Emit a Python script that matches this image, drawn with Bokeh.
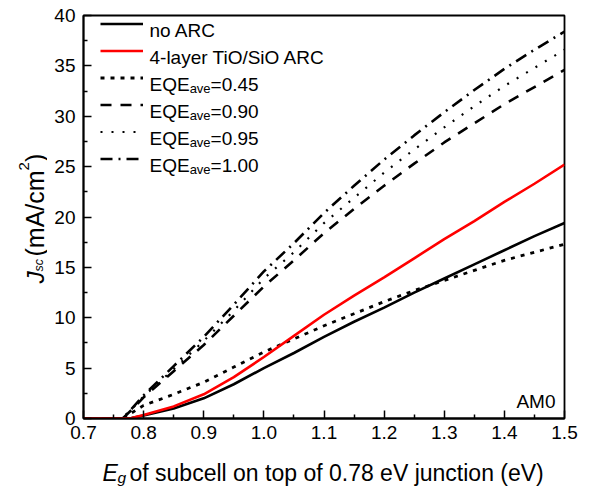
import math
from bokeh.plotting import figure
from bokeh.layouts import row, column
from bokeh.models import Range1d, FixedTicker, Label, Legend, LegendItem, PrintfTickFormatter
from bokeh.embed import file_html
from bokeh.resources import INLINE

# ---------------- data ----------------
eg = [0.70, 0.75, 0.765, 0.78, 0.80, 0.85, 0.90, 0.95, 1.00, 1.05, 1.10,
      1.15, 1.20, 1.25, 1.30, 1.35, 1.40, 1.45, 1.50]
j_noarc = [0, 0, 0, 0.05, 0.3, 1.0, 2.0, 3.4, 5.0, 6.5, 8.1,
           9.6, 11.0, 12.5, 13.9, 15.3, 16.7, 18.1, 19.4]
j_tiosio = [0, 0, 0, 0.05, 0.35, 1.2, 2.4, 4.1, 6.1, 8.2, 10.3,
            12.2, 14.0, 15.9, 17.8, 19.6, 21.5, 23.3, 25.2]
j_eqe045 = [0, 0, 0, 0.55, 1.3, 2.4, 3.6, 5.1, 6.6, 7.9, 9.2,
            10.4, 11.6, 12.7, 13.7, 14.7, 15.7, 16.5, 17.3]
j_eqe090 = [0, 0, 0, 0.85, 2.1, 4.7, 7.3, 10.2, 13.1, 15.7, 18.4,
            20.8, 23.1, 25.3, 27.4, 29.3, 31.2, 32.9, 34.6]
j_eqe095 = [0, 0, 0, 0.9, 2.2, 4.9, 7.7, 10.7, 13.9, 16.5, 19.4,
            21.9, 24.4, 26.7, 28.9, 31.0, 33.0, 34.8, 36.6]
j_eqe100 = [0, 0, 0, 0.95, 2.3, 5.2, 8.1, 11.3, 14.6, 17.4, 20.4,
            23.1, 25.7, 28.1, 30.4, 32.6, 34.7, 36.6, 38.4]

x_ticks = [0.7, 0.8, 0.9, 1.0, 1.1, 1.2, 1.3, 1.4, 1.5]
y_ticks = [0, 5, 10, 15, 20, 25, 30, 35, 40]
eqe_labels = ["=0.45", "=0.90", "=0.95", "=1.00"]
text_noarc = "no ARC"
text_tiosio = "4-layer TiO/SiO ARC"
text_am0 = "AM0"
xlabel_rest = "of subcell on top of 0.78 eV junction (eV)"

# ---------------- layout (picture coordinates) ----------------
FONT = "Liberation Sans"
W, H = 592, 490
WL = 47                      # width of the y-title strip
HM = 450                     # height of the main figure
FL, FR, FT, FB = 83, 564, 15, 418   # frame edges in the picture
FW = FR - FL
FH = FB - FT

p = figure(width=W - WL, height=HM, output_backend="svg", toolbar_location=None,
           title=None, x_range=Range1d(0.7, 1.5), y_range=Range1d(0, 40),
           min_border_left=FL - WL, min_border_right=W - FR,
           min_border_top=FT, min_border_bottom=HM - FB,
           background_fill_color="white", border_fill_color="white")
p.xgrid.visible = False
p.ygrid.visible = False
p.outline_line_color = "black"
p.outline_line_width = 1.8
p.outline_line_alpha = 1.0

x_minor = [round((a + b) / 2, 3) for a, b in zip(x_ticks[:-1], x_ticks[1:])]
y_minor = [(a + b) / 2 for a, b in zip(y_ticks[:-1], y_ticks[1:])]
p.xaxis.ticker = FixedTicker(ticks=x_ticks, minor_ticks=x_minor)
p.yaxis.ticker = FixedTicker(ticks=y_ticks, minor_ticks=y_minor)
p.xaxis.formatter = PrintfTickFormatter(format="%.1f")

for ax in (p.xaxis[0], p.yaxis[0]):
    ax.axis_line_width = 1.8
    ax.axis_line_color = "black"
    ax.major_tick_in = 8
    ax.major_tick_out = 0
    ax.minor_tick_in = 4
    ax.minor_tick_out = 0
    ax.major_tick_line_width = 1.5
    ax.minor_tick_line_width = 1.5
    ax.major_tick_line_color = "black"
    ax.minor_tick_line_color = "black"
    ax.major_label_text_font = FONT
    ax.major_label_text_font_size = "19px"
    ax.major_label_text_color = "black"
p.xaxis.major_label_standoff = 7
p.yaxis.major_label_standoff = 8

# ---------------- curves ----------------
r100 = p.line(eg, j_eqe100, line_color="black", line_width=2.6, line_dash="12 6 2 6")
r095 = p.line(eg, j_eqe095, line_color="black", line_width=2.2, line_dash="2 9")
r090 = p.line(eg, j_eqe090, line_color="black", line_width=2.6, line_dash="11 9")
r045 = p.line(eg, j_eqe045, line_color="black", line_width=2.8, line_dash="4 6")
rno = p.line(eg, j_noarc, line_color="black", line_width=2.6)
rred = p.line(eg, j_tiosio, line_color="#ff0000", line_width=2.6)

# ---------------- legend (samples) ----------------
GH = 17
SP = 10
PITCH = GH + SP
LX = 17
legend_renderers = [rno, rred, r045, r090, r095, r100]
LEG_H = len(legend_renderers) * GH + (len(legend_renderers) - 1) * SP
legend = Legend(items=[LegendItem(label=" ", renderers=[r]) for r in legend_renderers],
                location=(LX, FH - LEG_H), glyph_width=43, glyph_height=GH,
                label_height=GH, spacing=SP, padding=0, margin=0,
                border_line_alpha=0, background_fill_alpha=0,
                label_text_font_size="1px", label_standoff=0)
p.add_layout(legend)

LFS = 19
SUB_FS = 13
TX = LX + 43 + 6


def lab(fig, x, y, text, size, style="normal", angle=0.0, align="left"):
    fig.add_layout(Label(x=x, y=y, x_units="screen", y_units="screen", text=text,
                         text_font=FONT, text_font_size=f"{size}px",
                         text_font_style=style, text_color="black",
                         text_align=align, text_baseline="alphabetic", angle=angle))


def row_baseline(i):
    center_from_top = GH / 2 + i * PITCH
    return FH - center_from_top - 0.716 * LFS / 2


lab(p, TX, row_baseline(0), text_noarc, LFS)
lab(p, TX, row_baseline(1), text_tiosio, LFS)
for k, txt in enumerate(eqe_labels):
    yb = row_baseline(2 + k)
    lab(p, TX, yb, "EQE", LFS)
    x_sub = TX + 2.112 * LFS
    lab(p, x_sub, yb - 4, "ave", SUB_FS)
    lab(p, x_sub + 1.612 * SUB_FS, yb, txt, LFS)

lab(p, FW - 9, 17, text_am0, LFS, align="right")


# ---------------- axis-title strips ----------------
def strip(w, h, bl=0, br=0):
    f = figure(width=w, height=h, output_backend="svg", toolbar_location=None,
               title=None, x_axis_type=None, y_axis_type=None,
               x_range=Range1d(0, w), y_range=Range1d(0, h),
               min_border_left=bl, min_border_right=br,
               min_border_top=0, min_border_bottom=0,
               background_fill_color="white", border_fill_color="white")
    f.outline_line_color = None
    f.xgrid.visible = False
    f.ygrid.visible = False
    return f


AFS = 23
HX = H - HM
fx = strip(W - WL, HX, bl=FL - WL, br=W - FR)
XB_Y = H - 480 + 8            # baseline of the x title (frame-relative)
lab(fx, 102 - FL, XB_Y, "E", AFS, style="italic")
lab(fx, 117 - FL, XB_Y - 5, "g", 15.5, style="italic")
lab(fx, 129 - FL, XB_Y, xlabel_rest, AFS)

fy = strip(WL, H)
XB = 34.5
A = math.pi / 2
YFS = 25
lab(fy, XB, H - 283, "J", 24.5, style="italic", angle=A)
lab(fy, XB + 4, H - 271, "sc", 12.5, style="italic", angle=A)
lab(fy, XB, H - 256, "(mA/cm", YFS, angle=A)
y_sup = H - 256 + 3.444 * YFS
lab(fy, XB - 11, y_sup, "2", 15, angle=A)
lab(fy, XB, y_sup + 8.4, ")", YFS, angle=A)

layout = row(fy, column(p, fx, spacing=0), spacing=0)
open("out.html", "w").write(file_html(layout, INLINE))
